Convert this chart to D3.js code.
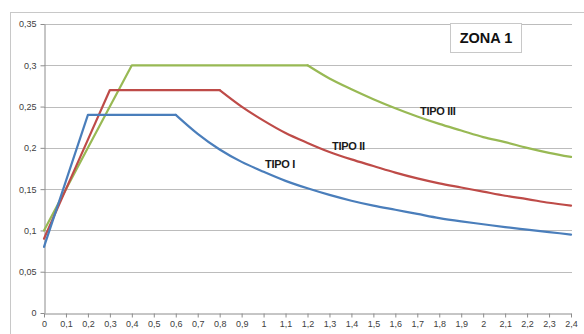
<!DOCTYPE html>
<html><head><meta charset="utf-8">
<script src="https://cdn.jsdelivr.net/npm/d3@7/dist/d3.min.js"></script>
<style>body{margin:0;background:#fff}svg{display:block}</style>
</head><body>
<svg id="c" width="584" height="334"></svg>
<script>
const periods = [0,0.1,0.2,0.3,0.4,0.5,0.6,0.7,0.8,0.9,1.0,1.1,1.2,1.3,1.4,1.5,1.6,1.7,1.8,1.9,2.0,2.1,2.2,2.3,2.4];
const tipoI   = [0.08,0.16,0.24,0.24,0.24,0.24,0.24,0.217,0.198,0.183,0.171,0.160,0.151,0.143,0.136,0.130,0.125,0.120,0.115,0.111,0.1075,0.104,0.101,0.098,0.095];
const tipoII  = [0.09,0.15,0.21,0.27,0.27,0.27,0.27,0.27,0.27,0.250,0.233,0.218,0.206,0.195,0.186,0.178,0.170,0.163,0.157,0.152,0.147,0.142,0.138,0.1335,0.130];
const tipoIII = [0.10,0.15,0.20,0.25,0.30,0.30,0.30,0.30,0.30,0.30,0.30,0.30,0.30,0.284,0.271,0.259,0.248,0.238,0.229,0.221,0.213,0.207,0.200,0.194,0.189];
const seriesNames = ["TIPO I","TIPO II","TIPO III"];
const yTicks = [0,0.05,0.1,0.15,0.2,0.25,0.3,0.35];
const xTicks = periods;
const title = "ZONA 1";

const svg = d3.select("#c");
const x = d3.scaleLinear().domain([0,2.4]).range([44,571]);
const y = d3.scaleLinear().domain([0,0.35]).range([313,24]);
const fmt = d => String(+d.toFixed(2)).replace(".", ",");

// outer frame
svg.append("rect").attr("x",10.5).attr("y",12.5).attr("width",600).attr("height",400)
  .attr("fill","none").attr("stroke","#c8c8c8");

// gridlines
svg.append("g").selectAll("line").data(yTicks.filter(d=>d>0)).join("line")
  .attr("x1",44).attr("x2",572).attr("y1",d=>Math.round(y(d))+0.5).attr("y2",d=>Math.round(y(d))+0.5)
  .attr("stroke","#bcbcbc").attr("stroke-width",1);

// axes
const xAxis = d3.axisBottom(x).tickValues(xTicks).tickFormat(fmt).tickSize(4).tickSizeOuter(0);
const gx = svg.append("g").attr("transform","translate(0,313.5)").call(xAxis);
const yAxis = d3.axisLeft(y).tickValues(yTicks).tickFormat(fmt).tickSize(4).tickSizeOuter(0);
const gy = svg.append("g").attr("transform","translate(44.5,0)").call(yAxis);
[gx,gy].forEach(g=>{
  g.select(".domain").attr("stroke","#8c8c8c");
  g.selectAll(".tick line").attr("stroke","#8c8c8c");
  g.selectAll("text").attr("fill","#404040").attr("font-family","Liberation Sans, Arial, sans-serif").attr("font-size",9);
});
gx.selectAll("text").attr("dy","0.9em").attr("y",5);
gy.selectAll("text").attr("x",-8);

// lines: straight rise + plateau, smooth decay
const colors = ["#4a7ebb","#be4b48","#98b954"];
const data = [tipoI,tipoII,tipoIII];
const pts = arr => arr.map((v,i)=>[periods[i],v]);
const lin = d3.line().x(d=>x(d[0])).y(d=>y(d[1]));
const smooth = d3.line().x(d=>x(d[0])).y(d=>y(d[1])).curve(d3.curveMonotoneX);
[2,1,0].forEach(k=>{
  const p = pts(data[k]);
  const mx = d3.max(data[k]);
  let end = 0; data[k].forEach((v,i)=>{ if (v===mx) end=i; });
  const g = svg.append("g").attr("fill","none").attr("stroke",colors[k])
    .attr("stroke-width",2.2).attr("stroke-linejoin","round").attr("stroke-linecap","round");
  g.append("path").attr("d",lin(p.slice(0,end+1)));
  g.append("path").attr("d",smooth(p.slice(end)));
});

// series labels
const labelPos = [[265,168],[332,150],[420,115]];
seriesNames.forEach((n,i)=>{
  svg.append("text").attr("x",labelPos[i][0]).attr("y",labelPos[i][1]).text(n)
    .attr("font-family","Liberation Sans, Arial, sans-serif").attr("font-weight","bold")
    .attr("font-size",11).attr("fill","#1a1a1a").attr("letter-spacing",-0.3);
});

// title box
svg.append("rect").attr("x",450.5).attr("y",23.5).attr("width",71).attr("height",29)
  .attr("fill","#fff").attr("stroke","#c8c8c8");
svg.append("text").attr("x",486).attr("y",43).attr("text-anchor","middle").text(title)
  .attr("font-family","Liberation Sans, Arial, sans-serif").attr("font-weight","bold")
  .attr("font-size",14.5).attr("fill","#111");
</script>
</body></html>
